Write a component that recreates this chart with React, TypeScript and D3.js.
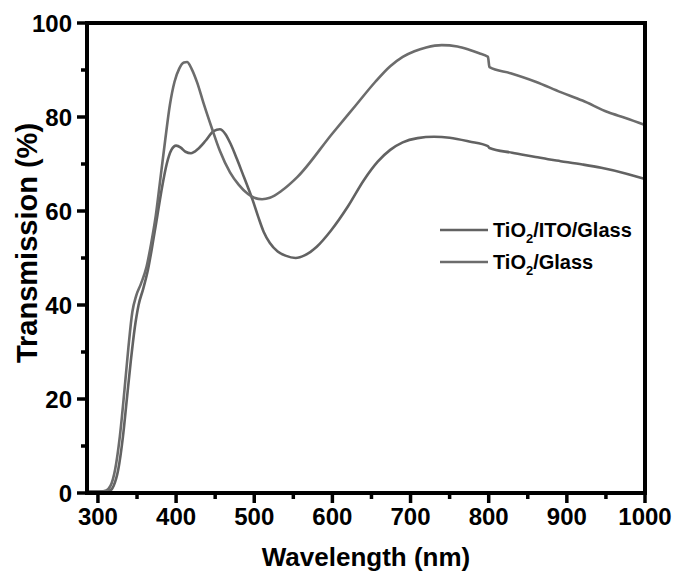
import React from "react";
import * as d3 from "d3";

const glassWl = [286, 300, 310, 316, 322, 328, 334, 339, 344, 349, 355, 362, 368, 374, 380, 386, 392, 398, 404, 410, 414, 420, 427, 435, 446, 456, 469, 480, 492, 500, 510, 520, 535, 555, 600, 630, 655, 674, 690, 705, 720, 740, 760, 775, 787, 799, 801, 828, 860, 892, 920, 953, 975, 1000];
const glassT = [0.3, 0.3, 0.5, 1.5, 5, 12, 22, 31, 38.5, 42, 44.5, 48, 53, 59, 67, 75, 82.5, 87.5, 90.3, 91.6, 91.7, 90.2, 87.3, 83, 77.5, 72.8, 68.2, 65.6, 63.6, 62.8, 62.5, 62.8, 64.3, 67.2, 76.5, 82.5, 87.5, 90.8, 92.8, 94, 94.8, 95.3, 95, 94.3, 93.6, 92.8, 90.6, 89.3, 87.5, 85.3, 83.5, 81, 79.8, 78.3];

const itoWl = [286, 300, 315, 320, 326, 332, 337, 342, 347, 352, 358, 364, 370, 376, 382, 388, 394, 400, 406, 412, 419, 428, 438, 448, 456, 463, 470, 478, 485, 492, 498, 505, 512, 520, 530, 540, 553, 565, 580, 598, 620, 640, 658, 674, 690, 709, 730, 750, 775, 799, 801, 830, 860, 876, 892, 920, 944, 975, 1000];
const itoT = [0.3, 0.3, 0.5, 1.5, 5, 12, 20, 28, 35, 40, 43.5, 47.5, 53, 59, 65, 70, 73, 73.9, 73.5, 72.6, 72.3, 73.2, 75, 77, 77.4, 76.4, 74.2, 71, 68, 65, 62.3, 58.8, 55.6, 53.2, 51.4, 50.5, 50, 50.6, 52.4, 55.8, 61, 66.5, 70.5, 73, 74.6, 75.5, 75.8, 75.6, 74.8, 73.8, 73.4, 72.4, 71.5, 71, 70.6, 69.9, 69.2, 68, 66.8];

const xMajor = [300, 400, 500, 600, 700, 800, 900, 1000];
const xMinor = [350, 450, 550, 650, 750, 850, 950];
const yMajor = [0, 20, 40, 60, 80, 100];
const yMinor = [10, 30, 50, 70, 90];

const seriesNames = ["TiO2/ITO/Glass", "TiO2/Glass"];

const W = 676, H = 571;
const L = 87, R = 645, T = 23, B = 493;
const FONT = "'Liberation Sans', Arial, Helvetica, sans-serif";

export default function App() {
  const x = d3.scaleLinear().domain([286, 1000]).range([L, R]);
  const y = d3.scaleLinear().domain([0, 100]).range([B, T]);
  const line = d3
    .line<[number, number]>()
    .x((d) => x(d[0]))
    .y((d) => y(d[1]))
    .curve(d3.curveMonotoneX);
  const itoPts = itoWl.map((w, i) => [w, itoT[i]] as [number, number]);
  const glassPts = glassWl.map((w, i) => [w, glassT[i]] as [number, number]);
  const colors = ["#626262", "#6c6c6c"];

  return (
    <svg width={W} height={H} style={{ position: "absolute", left: 0, top: 0, background: "#fff" }}>
      <rect x={0} y={0} width={W} height={H} fill="#fff" />
      <path d={line(itoPts) || ""} fill="none" stroke={colors[0]} strokeWidth={2.6} strokeLinejoin="round" />
      <path d={line(glassPts) || ""} fill="none" stroke={colors[1]} strokeWidth={2.6} strokeLinejoin="round" />
      <rect x={L} y={T} width={R - L} height={B - T} fill="none" stroke="#000" strokeWidth={4} />
      {xMajor.map((v) => (
        <g key={"xm" + v}>
          <line x1={x(v)} x2={x(v)} y1={B} y2={B + 10} stroke="#000" strokeWidth={3.5} />
          <text x={x(v)} y={525} textAnchor="middle" fontFamily={FONT} fontWeight="bold" fontSize={24}>{v}</text>
        </g>
      ))}
      {xMinor.map((v) => (
        <line key={"xn" + v} x1={x(v)} x2={x(v)} y1={B} y2={B + 6} stroke="#000" strokeWidth={3.5} />
      ))}
      {yMajor.map((v) => (
        <g key={"ym" + v}>
          <line x1={L} x2={L - 10} y1={y(v)} y2={y(v)} stroke="#000" strokeWidth={3.5} />
          <text x={72} y={y(v) + 8.5} textAnchor="end" fontFamily={FONT} fontWeight="bold" fontSize={24}>{v}</text>
        </g>
      ))}
      {yMinor.map((v) => (
        <line key={"yn" + v} x1={L} x2={L - 6} y1={y(v)} y2={y(v)} stroke="#000" strokeWidth={3.5} />
      ))}
      <text x={366} y={566} textAnchor="middle" fontFamily={FONT} fontWeight="bold" fontSize={26}>Wavelength (nm)</text>
      <text transform="translate(37,243) rotate(-90)" textAnchor="middle" fontFamily={FONT} fontWeight="bold" fontSize={29}>Transmission (%)</text>
      {seriesNames.map((name, i) => {
        const ly = 230 + i * 32;
        const parts = name.split("2");
        return (
          <g key={name}>
            <line x1={440} x2={488} y1={ly} y2={ly} stroke={colors[i]} strokeWidth={2.6} />
            <text x={493} y={ly + 7} fontFamily={FONT} fontWeight="bold" fontSize={20}>
              {parts[0]}
              <tspan fontSize={13} dy={6}>2</tspan>
              <tspan dy={-6}>{parts[1]}</tspan>
            </text>
          </g>
        );
      })}
    </svg>
  );
}
